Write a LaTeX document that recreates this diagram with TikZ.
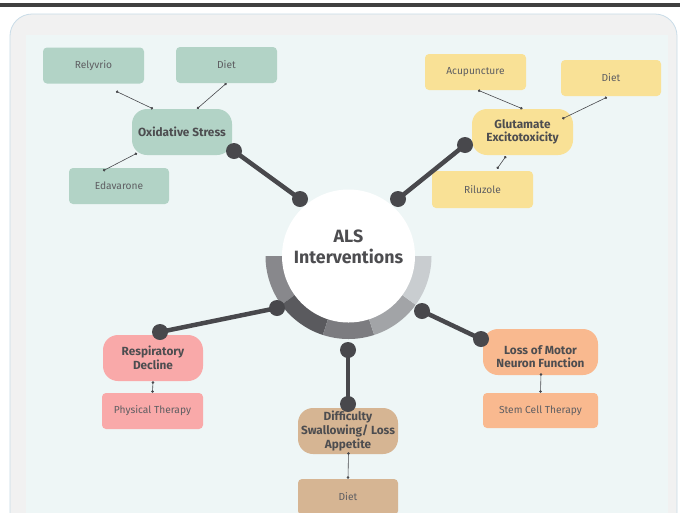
\documentclass[tikz,border=0pt]{standalone}
\usepackage{fontspec}
\setmainfont{Fira Sans}
\usetikzlibrary{calc,arrows.meta}
\definecolor{sage}{HTML}{B2D3C6}
\definecolor{butter}{HTML}{F9E196}
\definecolor{rose}{HTML}{F9A9A9}
\definecolor{tanbox}{HTML}{D6B593}
\definecolor{peach}{HTML}{F9B98F}
\definecolor{ink}{HTML}{48484C}
\definecolor{txt}{HTML}{4D4D50}
\definecolor{lighttxt}{HTML}{5E5E62}
\definecolor{panel}{HTML}{EEF6F6}
\definecolor{frame}{HTML}{F1F1F1}
\definecolor{frameedge}{HTML}{C9DCE8}
\definecolor{segA}{HTML}{88888C}
\definecolor{segB}{HTML}{5A5A5E}
\definecolor{segC}{HTML}{7C7C80}
\definecolor{segD}{HTML}{A2A4A7}
\definecolor{segE}{HTML}{C9CDD0}
\begin{document}
\begin{tikzpicture}[x=1pt,y=-1pt,
 cattext/.style={align=center, inner sep=0pt, text=txt, font=\bfseries\fontsize{11.8}{13.6}\selectfont},
 cat/.style={rounded corners=15pt, minimum width=100pt, minimum height=46pt, cattext},
 leaf/.style={rounded corners=4pt, minimum width=101pt, minimum height=36pt, inner sep=0pt, text=lighttxt, font=\fontsize{10.2}{12}\selectfont},
 thinlink/.style={draw=ink, line width=0.6pt, {Circle[length=2.6pt]}-{Circle[length=2.6pt]}},
 bigdot/.style={circle, fill=ink, inner sep=0pt, minimum size=16pt},
 spoke/.style={draw=ink, line width=4.5pt}]
\useasboundingbox (0,0) rectangle (680,512);
\clip (0,0) rectangle (680,512);
\fill[white] (0,0) rectangle (680,512);
\fill[black!75] (0,3) rectangle (680,6.5);
\draw[frameedge, fill=frame, line width=0.8pt, rounded corners=22pt] (10,14) rectangle (677,600);
\fill[panel] (26,35) rectangle (668,600);

% ring
\coordinate (ctr) at (348.5,256);
\foreach \a/\b/\c in {180/144/segA,144/108/segB,108/72/segC,72/36/segD,36/0/segE}{
  \fill[\c] (ctr) -- ($(ctr)+(\a:83)$) arc[start angle=\a, end angle=\b, radius=83] -- cycle;
}
\node[circle, fill=white, minimum size=133pt, inner sep=0pt] (als) at (ctr) {};
\node[font=\bfseries\fontsize{17.8}{21}\selectfont, text=txt, align=center] (alstxt) at (348.5,247) {ALS\\Interventions};

% category nodes
\node[cat, fill=sage] (ox) at (182,132) {Oxidative Stress};
\node[cat, fill=butter, minimum width=101pt] (glut) at (522.5,132) {Glutamate\\Excitotoxicity};
\node[cat, fill=rose] (resp) at (153,358) {Respiratory\\Decline};
\node[cat, fill=tanbox] (swal) at (348,431) {Difficulty\\Swallowing/ Loss\\Appetite};
\node[cat, fill=peach, minimum width=115pt,
  label={[cattext, yshift=-4.5pt]center:Loss of Motor\\Neuron Function}] (motor) at (540.5,352) {};

% leaf nodes
\node[leaf, fill=sage] (rel) at (93.5,65.5) {Relyvrio};
\node[leaf, fill=sage] (dtl) at (226.5,65) {Diet};
\node[leaf, fill=sage, minimum width=100pt] (eda) at (119,186) {Edavarone};
\node[leaf, fill=butter] (acu) at (475.5,72) {Acupuncture};
\node[leaf, fill=butter, minimum width=100pt] (dtr) at (611,78) {Diet};
\node[leaf, fill=butter, minimum height=37pt] (ril) at (482.5,189.5) {Riluzole};
\node[leaf, fill=rose] (phys) at (152.5,411) {Physical Therapy};
\node[leaf, fill=tanbox, minimum width=100pt] (dbot) at (348,497) {Diet};
\node[leaf, fill=peach, minimum width=115pt, minimum height=35pt] (stem) at (540.5,410.5) {Stem Cell Therapy};

% thin links
\draw[thinlink] ($(rel.south)+(22.5,7.5)$) -- ($(ox.north)+(-29,0)$);
\draw[thinlink] (dtl.south) -- ($(ox.north)+(15,0)$);
\draw[thinlink] ($(ox.south)+(-45,-2)$) -- ($(eda.north)+(-16,3)$);
\draw[thinlink] ($(acu.south)+(2.5,0)$) -- (glut.north);
\draw[thinlink] ($(dtr.south)+(-4,1)$) -- ($(glut.north east)+(-11,10)$);
\draw[thinlink] ($(glut.south)+(-16.5,1)$) -- ($(ril.north)+(14.5,-2)$);
\draw[thinlink] (resp.south) -- (phys.north);
\draw[thinlink] ($(swal.south)+(0.5,-2)$) -- (dbot.north);
\draw[thinlink] ($(motor.south)+(0.5,-2)$) -- (stem.north);

% spokes
\coordinate (o1) at (234,151);
\coordinate (c1) at (300,199);
\coordinate (g1) at (465,145);
\coordinate (c2) at (398,199);
\coordinate (c3) at (277,308);
\coordinate (r1) at (160,332);
\coordinate (c4) at (348,350);
\coordinate (s1) at (348,404);
\coordinate (c5) at (422,311);
\coordinate (m1) at (481,339);
\draw[spoke] (o1) -- (c1);
\draw[spoke] (g1) -- (c2);
\draw[spoke] (c3) -- (r1);
\draw[spoke] (c4) -- (s1);
\draw[spoke] (c5) -- (m1);
\foreach \p in {o1,c1,g1,c2,c3,r1,c4,s1,c5,m1}{
  \node[bigdot] (dot-\p) at (\p) {};
}
\end{tikzpicture}
\end{document}
